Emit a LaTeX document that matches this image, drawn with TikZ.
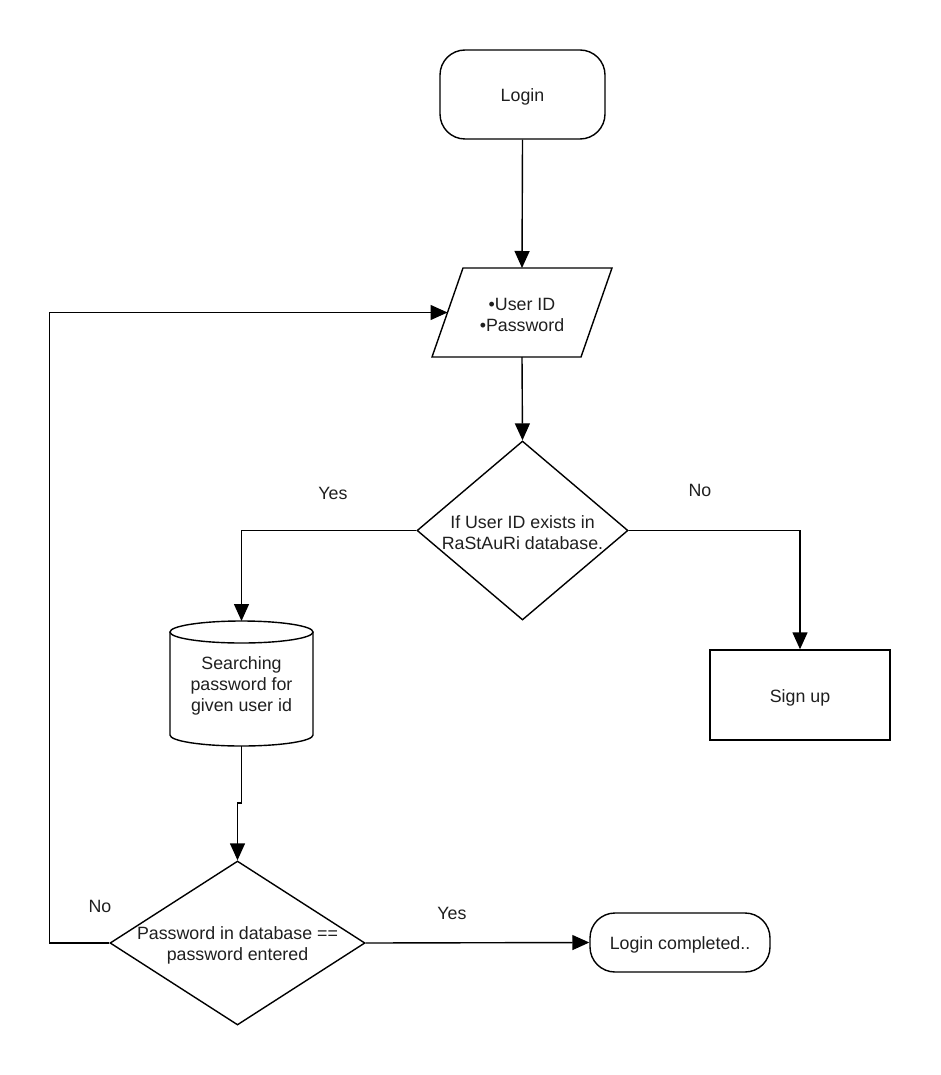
\documentclass[tikz,border=0pt]{standalone}
\usepackage{fontspec}
\setmainfont{Liberation Sans}
\usetikzlibrary{shapes.geometric,arrows.meta}
\begin{document}
\begin{tikzpicture}[x=1pt,y=-1pt,
  every node/.style={font=\fontsize{17.8}{21}\selectfont, text=black!88, align=center},
  base/.style={draw, line width=1.4pt, inner sep=0pt},
  terminal/.style={base, rectangle, rounded corners=25pt},
  decision/.style={base, diamond},
  process/.style={base, rectangle},
  frame/.style={inner sep=0pt, outer sep=0pt},
  txt/.style={inner sep=0pt, yshift=-2.5pt},
  flow/.style={line width=1.4pt, -{Triangle[length=17pt,width=15pt]}},
  link/.style={line width=1.4pt, line join=miter}
]
\useasboundingbox (0,0) rectangle (940,1075);

% shapes
\node[terminal, minimum width=165, minimum height=89] (login) at (522.5,94.5) {};
\node[frame, minimum width=149, minimum height=89] (cred) at (522,312.5) {};
\node[decision, minimum width=211, minimum height=179] (d1) at (522.5,530.5) {};
\node[process, minimum width=180, minimum height=90] (signup) at (800,695) {};
\node[frame, minimum width=143, minimum height=125] (search) at (241.5,683.5) {};
\node[decision, minimum width=255, minimum height=164] (d2) at (237.5,943) {};
\node[terminal, minimum width=180, minimum height=59] (done) at (680,942.5) {};

% input parallelogram
\draw[link] ([xshift=15.5pt]cred.north west) -- ([xshift=15.5pt]cred.north east)
  -- ([xshift=-15.5pt]cred.south east) -- ([xshift=-15.5pt]cred.south west) -- cycle;

% database cylinder
\draw[link] (search.north west) ++(0,11) -- ++(0,103)
  arc[start angle=180, end angle=0, x radius=71.5, y radius=11] -- ++(0,-103);
\draw[link] (search.north) ++(0,11) ellipse [x radius=71.5, y radius=11];

% texts inside the shapes
\node[txt] (logint) at (login.center) {Login};
\node[txt] (credt) at (cred.center) {•User ID\\•Password};
\node[txt] (d1t) at (d1.center) {If User ID exists in\\RaStAuRi database.};
\node[txt] (signupt) at (signup.center) {Sign up};
\node[txt] (searcht) at (search.center) {Searching\\password for\\given user id};
\node[txt] (d2t) at (d2.center) {Password in database ==\\password entered};
\node[txt] (donet) at (done.center) {Login completed..};

% branch labels
\node (yes1) at (333,493) {Yes};
\node (no1) at (700,490) {No};
\node (no2) at (100,906) {No};
\node (yes2) at (452,913) {Yes};

% connectors
\draw[flow] (login.south) -- (cred.north);
\draw[flow] (cred.south) -- (d1.north);
\draw[flow] (d1.west) -| (search.north);
\draw[flow] (d1.east) -| (signup.north);
\draw[flow] (search.south) -- ++(0,57) -| (d2.north);
\draw[flow] (d2.east) -- (done.west);
\draw[flow] (d2.west) -- ++(-60,0) |- (cred.west);
\end{tikzpicture}
\end{document}
